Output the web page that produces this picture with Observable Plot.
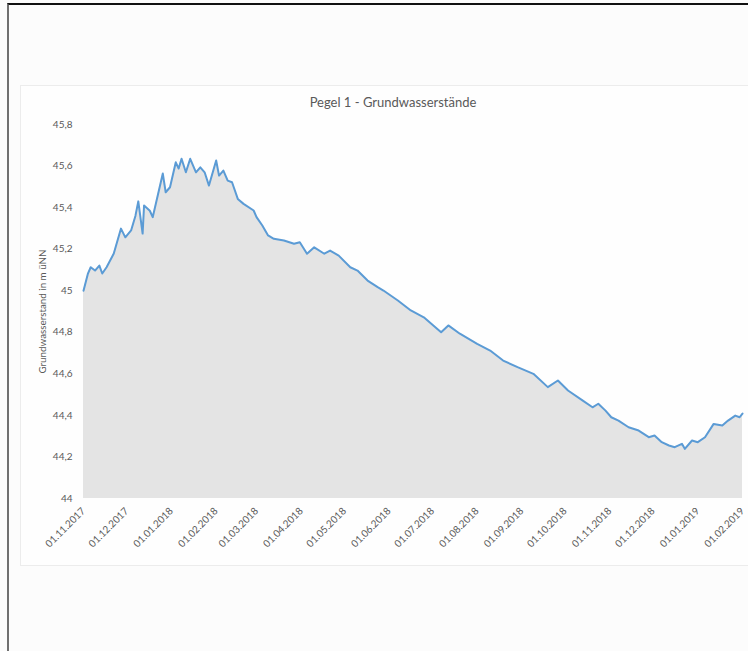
<!DOCTYPE html>
<html>
<head>
<meta charset="utf-8">
<script src="https://cdn.jsdelivr.net/npm/d3@7"></script>
<script src="https://cdn.jsdelivr.net/npm/@observablehq/plot@0.6"></script>
<style>
  html, body { margin: 0; padding: 0; width: 748px; height: 651px; overflow: hidden; background: #fcfcfc; font-family: Lato, "Open Sans", sans-serif; }
  #frame { position: absolute; left: 7px; top: 3px; width: 760px; height: 670px; border-top: 2px solid #111; border-left: 2px solid #707070; }
  #box { position: absolute; left: 20px; top: 85px; width: 760px; height: 479px; background: #fefefe; border: 1px solid #ececec; }
  #title { position: absolute; left: 0; width: 786px; top: 94px; text-align: center; font-size: 13px; color: #595959; }
  #chart { position: absolute; left: 20px; top: 85px; }
</style>
</head>
<body>
<div id="frame"></div>
<div id="box"></div>
<div id="title">Pegel 1 - Grundwasserstände</div>
<div id="chart"></div>
<script>
// Groundwater level at gauge 1 (m above sea level, NN)
const dates = [
  "2017-11-01","2017-11-04","2017-11-06","2017-11-09","2017-11-12","2017-11-14","2017-11-17","2017-11-22",
  "2017-11-27","2017-11-30","2017-12-04","2017-12-07","2017-12-09","2017-12-12","2017-12-13","2017-12-17",
  "2017-12-19","2017-12-23","2017-12-26","2017-12-28","2017-12-31","2018-01-04","2018-01-06","2018-01-08",
  "2018-01-11","2018-01-14","2018-01-18","2018-01-21","2018-01-24","2018-01-27","2018-02-01","2018-02-03",
  "2018-02-06","2018-02-09","2018-02-12","2018-02-16","2018-02-20","2018-02-27","2018-03-01","2018-03-05",
  "2018-03-09","2018-03-13","2018-03-20","2018-03-27","2018-03-31","2018-04-05","2018-04-10","2018-04-17",
  "2018-04-21","2018-04-27","2018-05-05","2018-05-10","2018-05-17","2018-05-24","2018-05-28","2018-06-07",
  "2018-06-16","2018-06-25","2018-07-07","2018-07-12","2018-07-20","2018-08-01","2018-08-10","2018-08-19",
  "2018-08-29","2018-09-09","2018-09-19","2018-09-26","2018-10-03","2018-10-13","2018-10-20","2018-10-24",
  "2018-10-29","2018-11-02","2018-11-07","2018-11-14","2018-11-21","2018-11-28","2018-12-02","2018-12-07",
  "2018-12-12","2018-12-16","2018-12-21","2018-12-23","2018-12-28","2019-01-01","2019-01-06","2019-01-12",
  "2019-01-18","2019-01-22","2019-01-27","2019-01-30","2019-02-01"
];
const levels = [
  45.000,45.081,45.113,45.097,45.121,45.083,45.113,45.179,
  45.299,45.257,45.290,45.360,45.430,45.275,45.410,45.385,
  45.354,45.474,45.564,45.474,45.498,45.618,45.588,45.635,
  45.570,45.635,45.570,45.594,45.570,45.506,45.627,45.554,
  45.578,45.530,45.522,45.442,45.418,45.386,45.354,45.314,
  45.266,45.250,45.242,45.226,45.233,45.178,45.209,45.178,
  45.193,45.169,45.113,45.097,45.049,45.017,45.001,44.953,
  44.905,44.872,44.800,44.833,44.793,44.744,44.712,44.664,
  44.632,44.600,44.536,44.568,44.520,44.472,44.439,44.456,
  44.423,44.391,44.375,44.343,44.327,44.295,44.303,44.271,
  44.255,44.247,44.263,44.239,44.279,44.271,44.295,44.359,
  44.351,44.375,44.399,44.391,44.409
];
const yTicks = [44, 44.2, 44.4, 44.6, 44.8, 45, 45.2, 45.4, 45.6, 45.8];
const yTitle = "Grundwasserstand in m üNN";

const data = dates.map((d, i) => ({date: new Date(d), level: levels[i]}));
const monthTicks = d3.utcMonth.range(new Date("2017-11-01"), new Date("2019-02-02"));
const fmtDate = d3.utcFormat("%d.%m.%Y");
const fmtLevel = v => String(+v.toFixed(1)).replace(".", ",");

const chart = Plot.plot({
  width: 728,
  height: 480,
  marginLeft: 63,
  marginRight: 6,
  marginTop: 39,
  marginBottom: 67,
  style: {background: "transparent", fontFamily: "Lato, 'Open Sans', sans-serif", color: "#595959"},
  x: {type: "utc", domain: [new Date("2017-11-01"), new Date("2019-02-01")]},
  y: {domain: [44, 45.8]},
  marks: [
    Plot.areaY(data, {x: "date", y1: 44, y2: "level", fill: "#e4e4e4"}),
    Plot.lineY(data, {x: "date", y: "level", stroke: "#5b9bd5", strokeWidth: 2, strokeLinejoin: "round"}),
    Plot.axisY({ticks: yTicks, tickFormat: fmtLevel, tickSize: 0, tickPadding: 11, fontSize: 10, label: null}),
    Plot.text([yTitle], {frameAnchor: "left", textAnchor: "middle", rotate: -90, dx: -41, fontSize: 9.8, fill: "#595959"}),
    Plot.axisX({ticks: monthTicks, tickFormat: fmtDate, tickRotate: -45, tickSize: 0, tickPadding: 11, fontSize: 10, label: null})
  ]
});
document.getElementById("chart").appendChild(chart);
</script>
</body>
</html>
